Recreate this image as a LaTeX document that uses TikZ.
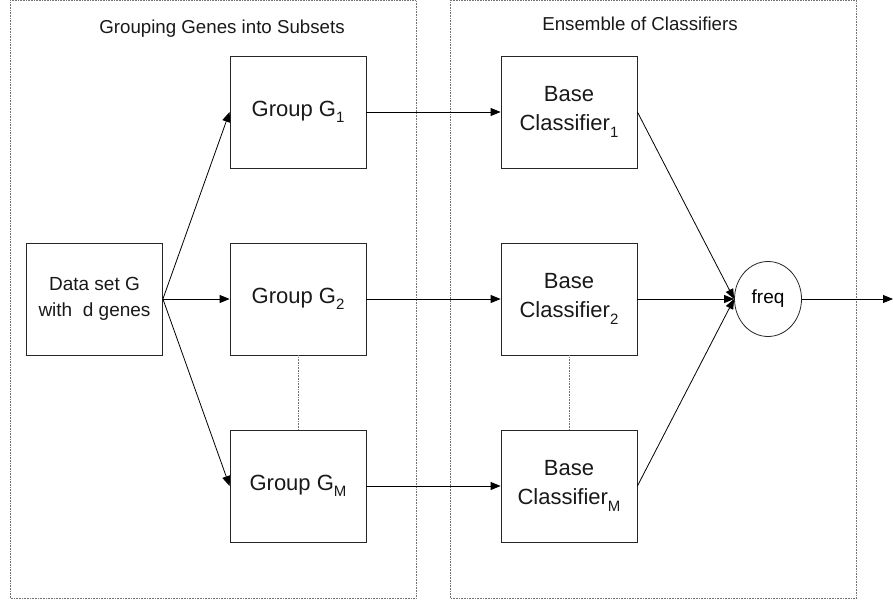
\documentclass[tikz,border=0pt]{standalone}
\usepackage{fontspec}
\setmainfont{Liberation Sans}
\usetikzlibrary{arrows.meta,shapes.geometric}

\newcommand{\lsub}[1]{\raisebox{-0.3em}{\fontsize{15}{15}\selectfont #1}}

\begin{document}
\begin{tikzpicture}[
    x=1pt, y=-1pt,
    box/.style={draw=black!85, line width=0.8pt, minimum width=136pt, minimum height=112pt, inner sep=0pt, align=center, text=black!90, font=\fontsize{22}{29}\selectfont},
    smallbox/.style={box, font=\fontsize{19}{25.5}\selectfont},
    panel/.style={draw=black!55, densely dotted, line width=0.6pt},
    link/.style={draw=black!55, densely dotted, line width=0.6pt},
    title/.style={anchor=base, text=black!90, font=\fontsize{18.7}{22}\selectfont},
    arrow/.style={-{Triangle[length=10pt, width=8pt]}, line width=0.8pt}
]
\useasboundingbox (0,0) rectangle (893,599);

% Panels
\draw[panel] (10,0.5) rectangle (416,598);
\draw[panel] (450,0.5) rectangle (856.5,598);
\node[title] (ttl1) at (222,34) {Grouping Genes into Subsets};
\node[title] (ttl2) at (640,31) {Ensemble of Classifiers};

% Input
\node[smallbox] (data) at (94.5,299) {Data set G\\with~~d genes};

% Gene groups
\node[box] (g1) at (298,112) {Group G\lsub{1}};
\node[box] (g2) at (298,299) {Group G\lsub{2}};
\node[box] (gm) at (298,486) {Group G\lsub{M}};

% Base classifiers
\node[box] (b1) at (569,112) {Base\\Classifier\lsub{1}};
\node[box] (b2) at (569,299) {Base\\Classifier\lsub{2}};
\node[box] (bm) at (569,486) {Base\\Classifier\lsub{M}};

% Vote
\node[draw=black!85, line width=0.8pt, ellipse, minimum width=67pt, minimum height=75pt, inner sep=0pt, font=\fontsize{19}{22}\selectfont] (freq) at (768,299) {freq};
\coordinate (out) at (893,299);

\draw[arrow] (data.east) -- (g1.west);
\draw[arrow] (data.east) -- (g2.west);
\draw[arrow] (data.east) -- (gm.west);

\draw[arrow] (g1.east) -- (b1.west);
\draw[arrow] (g2.east) -- (b2.west);
\draw[arrow] (gm.east) -- (bm.west);

\draw[arrow] (b1.east) -- (freq.west);
\draw[arrow] (b2.east) -- (freq.west);
\draw[arrow] (bm.east) -- (freq.west);
\draw[arrow] (freq.east) -- (out);

\draw[link] (g2.south) -- (gm.north);
\draw[link] (b2.south) -- (bm.north);

\end{tikzpicture}
\end{document}
